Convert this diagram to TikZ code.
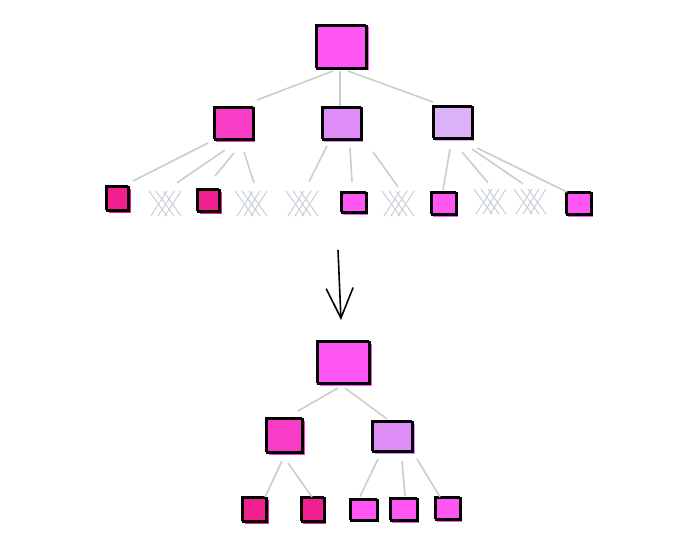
\documentclass[tikz,border=0pt]{standalone}
\usetikzlibrary{arrows.meta,calc}

\definecolor{rootpink}{HTML}{FF55F2}
\definecolor{hotpink}{HTML}{F93CC6}
\definecolor{lilac}{HTML}{DD8DF5}
\definecolor{palelilac}{HTML}{DCB2F8}
\definecolor{deeppink}{HTML}{F0208F}
\definecolor{hatchgray}{HTML}{C9CFD8}
\definecolor{edgegray}{HTML}{CCCCCC}

\tikzset{box/.style={draw=black, line width=2pt, fill=#1, inner sep=0pt,
    preaction={fill=#1, transform canvas={shift={(1.5pt,-1.5pt)}}},
    postaction={draw=black, line width=1pt, transform canvas={shift={(-1.3pt,1.2pt)}}}},
  rootbox/.style={box=#1, minimum width=50pt, minimum height=43pt},
  midbox/.style={box=#1, minimum width=39pt, minimum height=32pt},
  leafbox/.style={box=#1, minimum width=25pt, minimum height=22pt},
  hatchspot/.style={inner sep=0pt, minimum width=30pt, minimum height=28pt},
  hatchline/.style={hatchgray, line width=1pt},
  edge/.style={edgegray, line width=1.6pt}}

\begin{document}
\begin{tikzpicture}[x=1pt, y=-1pt, >=latex]
  \useasboundingbox (0,0) rectangle (700,550);

  % -- arbre complet
  \node[rootbox=rootpink] (r) at (342,47) {};
  \node[midbox=hotpink]   (a) at (234,124) {};
  \node[midbox=lilac]     (b) at (342,124) {};
  \node[midbox=palelilac] (c) at (453,123) {};

  \node[leafbox=deeppink, minimum width=22pt, minimum height=24pt] (l1) at (118,199) {};
  \node[hatchspot] (h1) at (167,203) {};
  \node[leafbox=deeppink, minimum width=22pt] (l2) at (209,201) {};
  \node[hatchspot] (h2) at (253,203) {};
  \node[hatchspot] (h3) at (304,203) {};
  \node[leafbox=rootpink, minimum height=20pt] (l3) at (354,203) {};
  \node[hatchspot] (h4) at (400,203) {};
  \node[leafbox=rootpink] (l4) at (444,204) {};
  \node[hatchspot] (h5) at (492,201) {};
  \node[hatchspot] (h6) at (532,201) {};
  \node[leafbox=rootpink] (l5) at (579,204) {};

  % hachures des feuilles vides
  \foreach \h in {h1,h2,h3,h4,h5,h6} {
    \begin{scope}[shift={(\h)}]
      \foreach \k in {-10,-3,4} {
        \draw[hatchline] ({\k-6},13) -- ({\k+10},-12);
        \draw[hatchline] ({\k-8},-12) -- ({\k+10},13);
      }
    \end{scope}
  }

  % liens
  \draw[edge] ($(r.south)+(-9,1.5)$) -- ($(a.north)+(23,-7)$);
  \draw[edge] ($(r.south)+(-2,1.5)$) -- ($(b.north)+(-2,-1)$);
  \draw[edge] ($(r.south)+(6,1.5)$)  -- ($(c.north)+(-20,-4)$);

  \draw[edge] ($(a.south)+(-26,2)$) -- ($(l1.north)+(15,-5)$);
  \draw[edge] ($(a.south)+(-9,9)$)  -- ($(h1.north)+(10,-6)$);
  \draw[edge] ($(a.south)+(0,12)$)  -- ($(l2.north)+(6,-13)$);
  \draw[edge] ($(a.south)+(10,11)$) -- ($(h2.north)+(1,-6)$);

  \draw[edge] ($(b.south)+(-15,5)$) -- ($(h3.north)+(5,-7)$);
  \draw[edge] ($(b.south)+(8,7)$)   -- ($(l3.north)+(-2,-10)$);
  \draw[edge] ($(b.south)+(31,11)$) -- ($(h4.north)+(-2,-2)$);

  \draw[edge] ($(c.south)+(-3,9)$)  -- ($(l4.north)+(-1,-2)$);
  \draw[edge] ($(c.south)+(9,12)$)  -- ($(h5.north)+(-4,-4)$);
  \draw[edge] ($(c.south)+(19,9)$)  -- ($(h6.north)+(-9,-3)$);
  \draw[edge] ($(c.south)+(24,8)$)  -- ($(l5.north)+(-12,0)$);

  % -- fleche
  \coordinate (arrtop) at (338,250);
  \coordinate (arrtip) at (341,320);
  \draw[line width=1.6pt, -{Straight Barb[length=30pt, width=27pt, line width=1.6pt]}]
    (arrtop) -- (arrtip);

  % -- arbre elague
  \node[rootbox=rootpink, minimum width=52pt, minimum height=42pt] (R) at (344,363) {};
  \node[midbox=hotpink, minimum width=36pt, minimum height=34pt] (A) at (285,436) {};
  \node[midbox=lilac, minimum width=40pt, minimum height=30pt] (B) at (393,437) {};

  \node[leafbox=deeppink, minimum width=24pt, minimum height=24pt] (L1) at (255,510) {};
  \node[leafbox=deeppink, minimum width=23pt, minimum height=24pt] (L2) at (313,510) {};
  \node[leafbox=rootpink, minimum width=27pt, minimum height=21pt] (L3) at (364,510) {};
  \node[leafbox=rootpink, minimum width=27pt] (L4) at (404,510) {};
  \node[leafbox=rootpink] (L5) at (448,509) {};

  \draw[edge] ($(R.south)+(-6,3)$) -- ($(A.north)+(13,-7)$);
  \draw[edge] ($(R.south)+(1,3)$)  -- ($(B.north)+(-6,-2)$);

  \draw[edge] ($(A.south)+(-3,7)$) -- ($(L1.north)+(10,0)$);
  \draw[edge] ($(A.south)+(3,9)$)  -- ($(L2.north)+(-1,0)$);

  \draw[edge] ($(B.south)+(-15,6)$) -- ($(L3.north)+(-4,-2)$);
  \draw[edge] ($(B.south)+(9,8)$)   -- ($(L4.north)+(1,-2)$);
  \draw[edge] ($(B.south)+(24,6)$)  -- ($(L5.north)+(-8,0)$);
\end{tikzpicture}
\end{document}
